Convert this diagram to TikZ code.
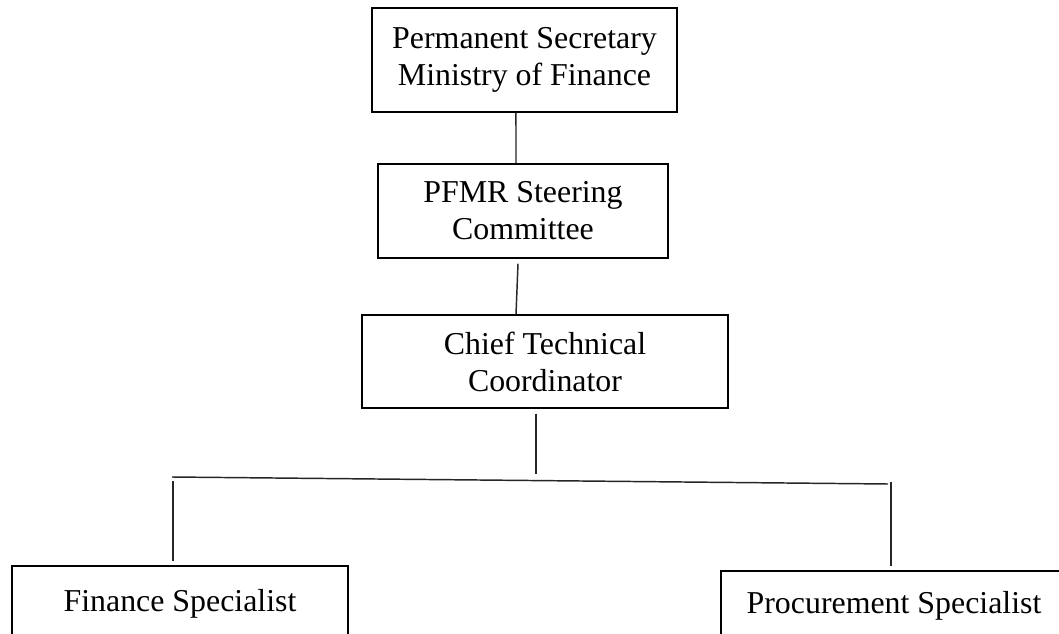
\documentclass[tikz,border=0pt]{standalone}
\usepackage{fontspec}
\setmainfont{Liberation Serif}
\begin{document}
\begin{tikzpicture}[x=0.75pt,y=-0.75pt,
  line width=1.1pt,
  orgbox/.style={draw=black, line width=1.1pt, rectangle, inner sep=0pt, align=center,
    font=\fontsize{23.9pt}{27.75pt}\selectfont},
  link/.style={draw=black!85, line width=1.1pt}]
  % page frame
  \clip (0,0) rectangle (1059,634);
  \fill[white] (0,0) rectangle (1059,634);

  % boxes of the chart
  \node[orgbox, minimum width=228.75pt, minimum height=78pt] (ps) at (524.5,60)
    {Permanent Secretary\\Ministry of Finance};
  \node[orgbox, minimum width=217.5pt, minimum height=70.5pt] (sc) at (523,211)
    {PFMR Steering\\Committee};
  \node[orgbox, minimum width=274.5pt, minimum height=69.75pt] (ctc) at (545,361.5)
    {Chief Technical\\Coordinator};
  \node[orgbox, minimum width=252pt, minimum height=57pt] (fs) at (180,604)
    {Finance Specialist};
  % this box runs past the right edge of the page
  \node[orgbox, minimum width=292.5pt, minimum height=52.5pt] (pr) at (916,606)
    {Procurement Specialist\hspace*{33pt}};

  % branching bar towards the specialists
  \coordinate (busL) at (172,477);
  \coordinate (busR) at (888,484);
  \coordinate (busTop) at (536,474);
  \coordinate (dropL) at (173,481);
  \coordinate (dropR) at (891,482);

  % connectors
  \draw[link] ([xshift=-6.4pt]ps.south) -- ([xshift=-5.25pt]sc.north);
  \draw[link] ([xshift=-3.75pt,yshift=-3.75pt]sc.south) -- ([xshift=-21.75pt]ctc.north);
  \draw[link] ([xshift=-6.75pt,yshift=-3.75pt]ctc.south) -- (busTop);
  \draw[link] (busL) -- (busR);
  \draw[link] (dropL) -- ([yshift=3pt]fs.north -| dropL);
  \draw[link] (dropR) -- ([yshift=3pt]pr.north -| dropR);
\end{tikzpicture}
\end{document}
